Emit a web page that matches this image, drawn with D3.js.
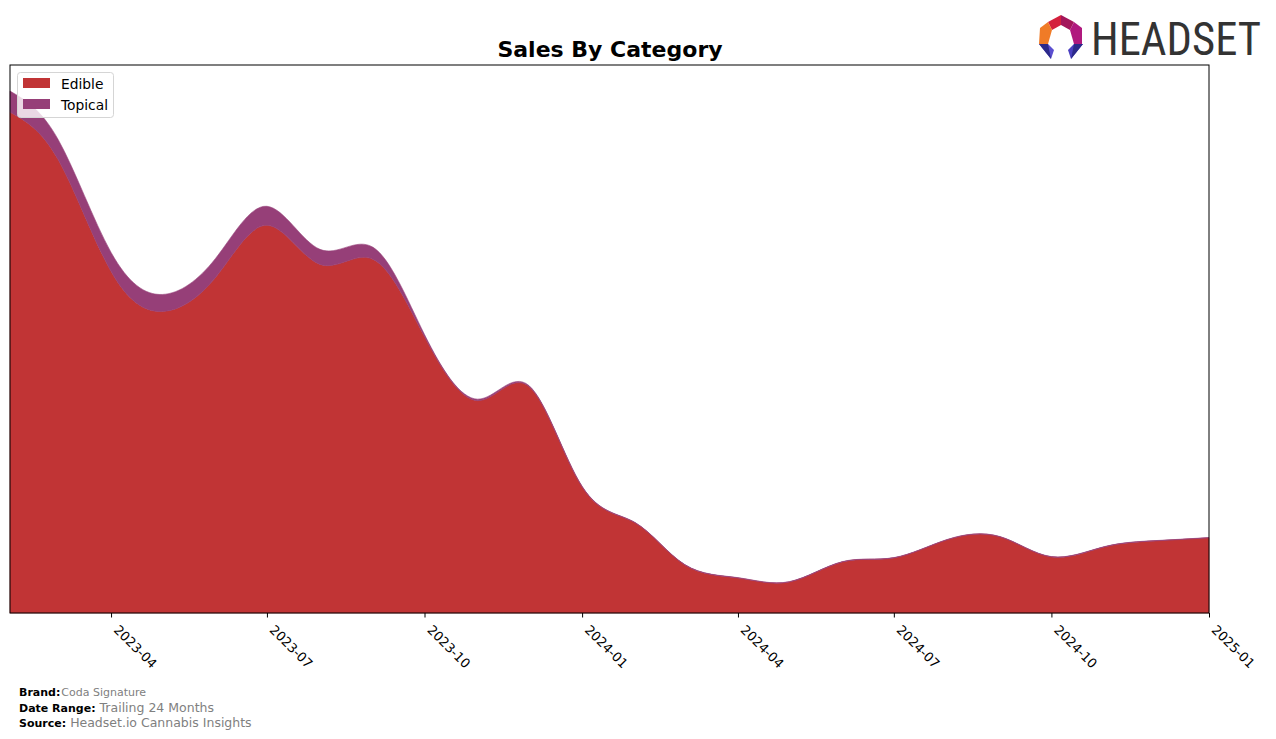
<!DOCTYPE html>
<html><head><meta charset="utf-8">
<script src="https://cdn.jsdelivr.net/npm/d3@7"></script>
<style>body{margin:0;background:#fff}svg{display:block}</style>
</head><body>
<svg id="c" width="1276" height="739"></svg>
<script>
const months = ["2023-02","2023-03","2023-04","2023-05","2023-06","2023-07","2023-08","2023-09","2023-10","2023-11","2023-12","2024-01","2024-02","2024-03","2024-04","2024-05","2024-06","2024-07","2024-08","2024-09","2024-10","2024-11","2024-12","2025-01"];
const edible = [500,453,341,301,335,387,348,353,276,212,226,126,90,48,35,31,51,55,73,76,56,66,72,75];
const topical = [21,20,19,17,19,19,15,12,2,1.5,1,0.5,0.3,0.3,0.3,0.3,0.3,0.3,0.3,0.3,0.3,0.3,0.3,0.3];
const seriesNames = ["Edible","Topical"];
const colors = ["#c13435","#963f78"];
const tickLabels = ["2023-04","2023-07","2023-10","2024-01","2024-04","2024-07","2024-10","2025-01"];

const svg = d3.select("#c");
const parse = d3.timeParse("%Y-%m");
const L=10,R=1209,T=65,B=613;
const data = months.map((m,i)=>({date:parse(m),Edible:edible[i],Topical:topical[i]}));
const x = d3.scaleTime().domain([data[0].date,data[data.length-1].date]).range([L,R]);
const maxT = d3.max(data,d=>d.Edible+d.Topical);
const y = d3.scaleLinear().domain([0,maxT*1.05]).range([B,T]);
const stack = d3.stack().keys(seriesNames)(data);
const area = d3.area().x(d=>x(d.data.date)).y0(d=>y(d[0])).y1(d=>y(d[1])).curve(d3.curveNatural);
svg.append("g").selectAll("path").data(stack).join("path")
  .attr("d",area).attr("fill",(d,i)=>colors[i]).attr("stroke",(d,i)=>colors[i]).attr("stroke-width",0.6);

// frame
svg.append("rect").attr("x",L).attr("y",T).attr("width",R-L).attr("height",B-T).attr("fill","none").attr("stroke","#000").attr("stroke-width",1);

// axis
const ticks = tickLabels.map(parse);
const ax = svg.append("g").attr("transform",`translate(0,${B})`)
  .call(d3.axisBottom(x).tickValues(ticks).tickFormat(d3.timeFormat("%Y-%m")).tickSize(4.5));
ax.select(".domain").remove();
ax.selectAll("line").attr("stroke","#000");
ax.selectAll("text").attr("font-family","DejaVu Sans").attr("font-size",13).attr("fill","#000")
  .attr("text-anchor","start").attr("x",0).attr("y",0).attr("dy","0.72em")
  .attr("transform","translate(8,11) rotate(45)");

// title
svg.append("text").attr("x",610).attr("y",57).attr("text-anchor","middle").attr("font-family","DejaVu Sans").attr("font-weight","bold").attr("font-size",22).text("Sales By Category");

// legend
const lg = svg.append("g");
lg.append("rect").attr("x",17.5).attr("y",72.5).attr("width",96).attr("height",45).attr("rx",3).attr("fill","#fff").attr("fill-opacity",0.8).attr("stroke","#d5d5d5");
seriesNames.forEach((n,i)=>{
  lg.append("rect").attr("x",23).attr("y",78+i*21).attr("width",27).attr("height",10).attr("fill",colors[i]);
  lg.append("text").attr("x",61).attr("y",89+i*21).attr("font-family","DejaVu Sans").attr("font-size",13.8).attr("fill","#000").text(n);
});

// footer
const ft = [["Brand:","Coda Signature",11,696],["Date Range:","Trailing 24 Months",12.5,712],["Source:","Headset.io Cannabis Insights",12.5,727]];
ft.forEach(f=>{
  const t = svg.append("text").attr("x",19).attr("y",f[3]).attr("font-family","DejaVu Sans");
  t.append("tspan").attr("font-weight","bold").attr("font-size",11).attr("fill","#000").text(f[0]);
  t.append("tspan").attr("font-size",f[2]).attr("fill","#808080").attr("dx",f[0]==="Brand:"?1:4).text(f[1]);
});

// logo
const lgo = svg.append("g");
const polys = [
  [[1048,22],[1061,15],[1061,25],[1052,30]],
  [[1061,15],[1074,22],[1070,30],[1061,25]],
  [[1074,22],[1082,28],[1082,44],[1074,44],[1070,30]],
  [[1048,22],[1052,30],[1048,44],[1039,44],[1040,28]],
  [[1039,44],[1048,44],[1054,50],[1051,59]],
  [[1074,44],[1083,44],[1071,59],[1068,50]],
];
const pc = ["#d4213d","#a3165a","#b0197e","#f07b27","#5b4fd0","#4a3fc0"];
polys.forEach((p,i)=>lgo.append("polygon").attr("points",p.map(q=>q.join(",")).join(" ")).attr("fill",pc[i]));
lgo.append("polygon").attr("points","1039,44 1048,44 1051,59").attr("fill","#2c2a8a");
lgo.append("polygon").attr("points","1083,44 1074,44 1071,59").attr("fill","#2c2a8a");
lgo.append("text").attr("x",1091).attr("y",55).attr("font-family","Liberation Sans Narrow, Roboto Condensed, Roboto, sans-serif").attr("font-size",47).attr("fill","#333").attr("textLength",170).attr("lengthAdjust","spacingAndGlyphs").text("HEADSET");
</script>
</body></html>
